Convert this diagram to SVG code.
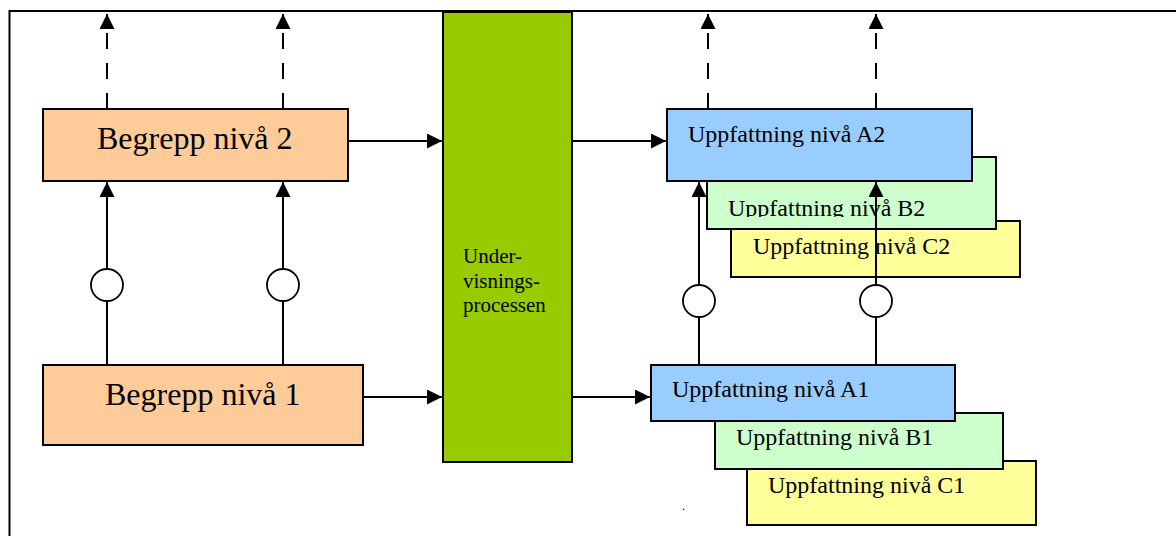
<svg xmlns="http://www.w3.org/2000/svg" width="1176" height="536" viewBox="0 0 1176 536">
<style>
.box{stroke:#000;stroke-width:2}
.big{font-family:"Liberation Serif","Times New Roman",serif;font-size:32px;fill:#000}
.mid{font-family:"Liberation Serif","Times New Roman",serif;font-size:24px;fill:#000}
.sm{font-family:"Liberation Serif","Times New Roman",serif;font-size:21px;fill:#000}
.ln{stroke:#000;stroke-width:2;fill:none}
.arr{marker-end:url(#ah)}
.dash{stroke-dasharray:16 14}
.circ{fill:#fff;stroke:#000;stroke-width:1.8}
.orange{fill:#FFCC99}.green{fill:#99CC00}.blue{fill:#99CCFF}.mint{fill:#CCFFCC}.yellow{fill:#FFFF99}
</style>
<defs>
<marker id="ah" markerUnits="userSpaceOnUse" markerWidth="16" markerHeight="16" refX="15" refY="7.5" orient="auto">
<path d="M0,0 L15,7.5 L0,15 z" fill="#000"/>
</marker>
<clipPath id="clipB2"><rect x="707" y="157" width="289" height="60"/></clipPath>
</defs>
<rect width="1176" height="536" fill="#fff"/>
<g id="frame">
<path d="M9.5,536 L9.5,11 L1176,11" class="ln"/>
</g>
<g id="begrepp2">
<rect x="43" y="109" width="305" height="72" class="box orange"/>
<text x="97" y="149" class="big">Begrepp nivå 2</text>
</g>
<g id="begrepp1">
<rect x="43" y="365" width="320" height="80" class="box orange"/>
<text x="105" y="405" class="big">Begrepp nivå 1</text>
</g>
<g id="undervisning">
<rect x="443" y="12" width="129" height="450" class="box green"/>
<text class="sm"><tspan x="463" y="263">Under-</tspan><tspan x="463" y="288">visnings-</tspan><tspan x="463" y="312">processen</tspan></text>
</g>
<g id="uppC2">
<rect x="731" y="221" width="289" height="56" class="box yellow"/>
<text x="753" y="254" class="mid">Uppfattning nivå C2</text>
</g>
<g id="uppB2">
<rect x="707" y="157" width="289" height="72" class="box mint"/>
<text x="728" y="216" class="mid" clip-path="url(#clipB2)">Uppfattning nivå B2</text>
</g>
<g id="uppA2">
<rect x="667" y="109" width="305" height="72" class="box blue"/>
<text x="688" y="142" class="mid">Uppfattning nivå A2</text>
</g>
<g id="uppC1">
<rect x="747" y="461" width="289" height="64" class="box yellow"/>
<text x="768" y="493" class="mid">Uppfattning nivå C1</text>
</g>
<g id="uppB1">
<rect x="715" y="413" width="288" height="56" class="box mint"/>
<text x="736" y="445" class="mid">Uppfattning nivå B1</text>
</g>
<g id="uppA1">
<rect x="651" y="365" width="304" height="56" class="box blue"/>
<text x="672" y="397" class="mid">Uppfattning nivå A1</text>
</g>
<g id="connectors">
<path d="M107,109 L107,14" class="ln dash arr"/>
<path d="M283,109 L283,14" class="ln dash arr"/>
<path d="M708,109 L708,14" class="ln dash arr"/>
<path d="M876,109 L876,14" class="ln dash arr"/>
<path d="M348,141 L442,141" class="ln arr"/>
<path d="M363,397 L442,397" class="ln arr"/>
<path d="M572,141 L666,141" class="ln arr"/>
<path d="M572,397 L650,397" class="ln arr"/>
<path d="M107,365 L107,182" class="ln arr"/>
<path d="M283,365 L283,182" class="ln arr"/>
<path d="M699,365 L699,182" class="ln arr"/>
<path d="M876,365 L876,182" class="ln arr"/>
<circle cx="107" cy="285" r="16" class="circ"/>
<circle cx="283" cy="285" r="16" class="circ"/>
<circle cx="699" cy="301" r="16" class="circ"/>
<circle cx="876" cy="301" r="16" class="circ"/>
</g>
<text x="682" y="510" style="font-family:'Liberation Serif',serif;font-size:12px">.</text>
</svg>
